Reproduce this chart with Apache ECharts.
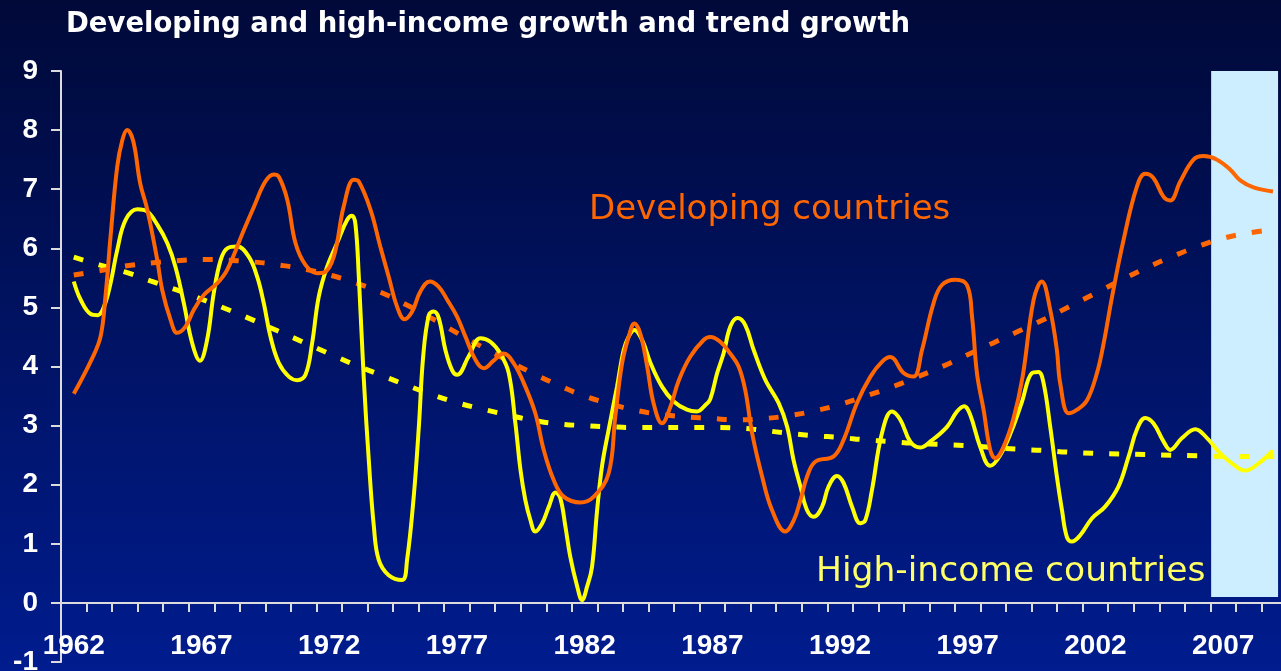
<!DOCTYPE html>
<html lang="en">
<head>
<meta charset="utf-8">
<title>Developing and high-income growth and trend growth</title>
<script type="text/javascript" src="https://cdn.jsdelivr.net/npm/echarts@6/dist/echarts.min.js"></script>
<style>
    html, body { margin: 0; padding: 0; }
    #main { width: 1281px; height: 671px; }
</style>
</head>
<body>
<div id="main"></div>
<script type="text/javascript">

// category axis: one slot per year, labelled every 5 years
var years = ['1962','1963','1964','1965','1966','1967','1968','1969','1970','1971',
    '1972','1973','1974','1975','1976','1977','1978','1979','1980','1981',
    '1982','1983','1984','1985','1986','1987','1988','1989','1990','1991',
    '1992','1993','1994','1995','1996','1997','1998','1999','2000','2001',
    '2002','2003','2004','2005','2006','2007','2008','2009'];

// trend growth, one value per year
var devTrend = [5.55,5.62,5.70,5.75,5.79,5.81,5.80,5.77,5.72,5.65,
    5.55,5.42,5.26,5.05,4.82,4.57,4.33,4.10,3.88,3.68,
    3.50,3.37,3.26,3.19,3.15,3.12,3.10,3.12,3.17,3.25,
    3.36,3.50,3.65,3.82,4.00,4.20,4.40,4.60,4.80,5.02,
    5.24,5.46,5.67,5.86,6.03,6.17,6.26,6.32];
var highTrend = [5.85,5.72,5.60,5.45,5.30,5.14,4.97,4.79,4.60,4.41,
    4.22,4.03,3.86,3.69,3.53,3.39,3.28,3.18,3.09,3.03,
    3.00,2.98,2.97,2.97,2.97,2.97,2.96,2.92,2.87,2.83,
    2.80,2.76,2.73,2.70,2.68,2.66,2.63,2.60,2.58,2.55,
    2.53,2.52,2.51,2.50,2.49,2.48,2.48,2.48];

// developing countries growth (time in years, growth in %)
var devT = [1962.0,1962.72,1963.05,1963.24,1963.44,1963.7,1963.9,1964.09,1964.33,1964.6,
    1964.88,1965.27,1965.46,1965.79,1966.05,1966.38,1966.7,1967.09,1967.62,1968.0,
    1968.66,1969.05,1969.5,1969.83,1970.03,1970.36,1970.68,1971.07,1971.53,1971.79,
    1972.18,1972.57,1972.96,1973.16,1973.62,1974.0,1974.33,1974.66,1974.95,1975.25,
    1975.57,1975.94,1976.29,1976.62,1977.01,1977.33,1977.73,1978.05,1978.44,1978.83,
    1979.22,1979.62,1980.07,1980.4,1980.79,1981.18,1981.84,1982.36,1982.94,1983.2,
    1983.47,1983.73,1983.95,1984.18,1984.45,1984.7,1985.03,1985.36,1985.69,1986.14,
    1986.66,1986.92,1987.31,1987.7,1988.03,1988.29,1988.56,1988.95,1989.34,1989.86,
    1990.19,1990.45,1990.71,1991.03,1991.75,1992.14,1992.66,1993.19,1993.64,1993.97,
    1994.49,1994.88,1995.21,1995.66,1995.99,1996.51,1996.97,1997.17,1997.36,1997.62,
    1997.88,1998.08,1998.4,1998.79,1999.15,1999.58,1999.9,2000.23,2000.49,2000.62,
    2000.95,2001.28,2001.67,2002.06,2002.32,2002.65,2003.1,2003.62,2003.95,2004.27,
    2004.67,2004.93,2005.32,2005.84,2006.23,2006.76,2007.28,2007.67,2008.19,2008.95];
var devG = [3.54,4.14,4.51,5.18,6.20,7.38,7.83,8.00,7.81,7.10,
    6.65,5.80,5.30,4.79,4.57,4.68,4.96,5.21,5.41,5.63,
    6.31,6.70,7.13,7.25,7.21,6.82,6.09,5.72,5.58,5.59,
    5.86,6.71,7.16,7.13,6.65,6.03,5.52,5.01,4.80,4.93,
    5.27,5.44,5.35,5.13,4.84,4.51,4.11,3.97,4.10,4.22,
    4.06,3.72,3.21,2.59,2.08,1.80,1.70,1.80,2.19,3.15,
    4.06,4.51,4.73,4.56,4.00,3.38,3.04,3.32,3.77,4.17,
    4.45,4.50,4.42,4.22,4.00,3.60,2.87,2.14,1.57,1.21,
    1.40,1.74,2.14,2.39,2.48,2.76,3.38,3.83,4.08,4.16,
    3.89,3.83,4.28,5.07,5.38,5.47,5.38,4.84,3.89,3.27,
    2.59,2.45,2.64,3.12,3.83,5.13,5.44,4.96,4.28,3.72,
    3.21,3.27,3.43,3.89,4.39,5.18,6.14,7.04,7.26,7.19,
    6.87,6.81,7.13,7.50,7.56,7.50,7.33,7.15,7.03,6.96];

// high-income countries growth
var highT = [1962.0,1962.27,1962.66,1962.94,1963.18,1963.44,1963.7,1964.03,1964.49,1964.88,
    1965.27,1965.66,1965.98,1966.31,1966.64,1966.94,1967.22,1967.48,1967.75,1968.01,
    1968.4,1968.85,1969.18,1969.44,1969.7,1970.03,1970.42,1970.75,1971.07,1971.33,
    1971.59,1971.92,1972.31,1972.7,1972.9,1973.03,1973.16,1973.35,1973.55,1973.75,
    1973.94,1974.33,1974.86,1975.05,1975.31,1975.51,1975.68,1975.9,1976.09,1976.29,
    1976.55,1976.81,1977.01,1977.46,1977.92,1978.31,1978.7,1979.03,1979.29,1979.49,
    1979.68,1979.88,1980.07,1980.34,1980.6,1980.86,1981.05,1981.25,1981.44,1981.71,
    1981.9,1982.1,1982.29,1982.49,1982.68,1982.94,1983.27,1983.53,1983.73,1983.95,
    1984.25,1984.58,1985.03,1985.49,1986.01,1986.4,1986.73,1986.92,1987.19,1987.44,
    1987.71,1987.99,1988.29,1988.62,1989.08,1989.6,1989.93,1990.18,1990.45,1990.71,
    1990.97,1991.3,1991.55,1991.88,1992.14,1992.47,1992.79,1992.99,1993.25,1993.64,
    1994.03,1994.36,1994.75,1995.14,1995.53,1996.19,1996.58,1996.86,1997.1,1997.49,
    1997.88,1998.27,1998.73,1999.12,1999.51,1999.77,1999.97,2000.23,2000.49,2000.69,
    2000.88,2001.08,2001.41,2001.86,2002.38,2002.9,2003.3,2003.62,2003.95,2004.27,
    2004.67,2004.93,2005.39,2005.91,2006.37,2006.89,2007.41,2007.86,2008.38,2008.95];
var highG = [5.44,5.13,4.89,4.87,5.01,5.41,5.97,6.48,6.66,6.62,
    6.40,6.09,5.69,5.07,4.39,4.10,4.45,5.24,5.80,6.00,
    6.03,5.86,5.52,5.07,4.51,4.06,3.83,3.77,3.86,4.39,
    5.18,5.69,6.09,6.48,6.55,6.40,5.52,3.83,2.42,1.29,
    0.73,0.47,0.39,0.73,1.80,2.98,4.17,4.87,4.93,4.82,
    4.28,3.94,3.86,4.17,4.48,4.42,4.22,3.89,3.04,2.25,
    1.74,1.40,1.21,1.35,1.63,1.87,1.77,1.29,0.78,0.28,
    0.05,0.28,0.61,1.57,2.31,2.93,3.66,4.28,4.51,4.62,
    4.45,4.06,3.66,3.41,3.27,3.24,3.35,3.45,3.89,4.22,
    4.68,4.82,4.70,4.28,3.77,3.38,2.98,2.42,1.97,1.57,
    1.46,1.63,1.97,2.15,2.03,1.63,1.35,1.40,1.91,2.87,
    3.24,3.10,2.73,2.63,2.73,2.98,3.24,3.33,3.18,2.64,
    2.32,2.50,2.93,3.40,3.89,3.91,3.72,2.98,2.14,1.57,
    1.12,1.04,1.15,1.43,1.63,1.97,2.48,2.93,3.13,3.04,
    2.73,2.59,2.79,2.94,2.79,2.53,2.34,2.24,2.36,2.58];

// forecast band: [start year, end year]
var forecastBand = [2006.53, 2009.15];

function pairs(xs, ys) {
    var out = [];
    for (var i = 0; i < xs.length; i++) {
        out.push([xs[i], ys[i]]);
    }
    return out;
}

var trendPts = years.map(function (y) { return Number(y); });

var myChart = echarts.init(document.getElementById('main'));
var axisColor = '#dcdcdc';
var labelFont = '"Liberation Sans", Arial';

var option = {
    animation: false,
    backgroundColor: new echarts.graphic.LinearGradient(0, 0, 0, 1, [
        {offset: 0, color: '#000938'},
        {offset: 1, color: '#001c8e'}
    ]),
    graphic: [
        {
            type: 'text', left: 66, top: 11,
            style: {text: 'Developing and high-income growth and trend growth', fill: '#ffffff',
                font: 'bold 27.5px "DejaVu Sans"'}
        },
        {
            type: 'text', left: 589, top: 193,
            style: {text: 'Developing countries', fill: '#ff6600', font: '34px "DejaVu Sans"'}
        },
        {
            type: 'text', left: 816, top: 555,
            style: {text: 'High-income countries', fill: '#ffff66', font: '34.5px "DejaVu Sans"'}
        }
    ],
    // grid 0: 0..9 plot, grid 1: the short stretch of y axis down to -1
    grid: [
        {left: 61, top: 71, width: 1226, height: 532, outerBoundsMode: 'none', containLabel: false},
        {left: 61, top: 603, width: 1226, height: 59, outerBoundsMode: 'none', containLabel: false}
    ],
    xAxis: [
        {
            type: 'category',
            gridIndex: 0,
            data: years,
            boundaryGap: true,
            axisLine: {onZero: false, lineStyle: {color: axisColor, width: 2}},
            axisTick: {show: true, interval: 0, length: 9, lineStyle: {color: axisColor, width: 2}},
            axisLabel: {interval: 4, margin: 29, color: '#ffffff', fontWeight: 'bold',
                fontSize: 28, fontFamily: labelFont},
            splitLine: {show: false}
        },
        {type: 'value', gridIndex: 0, min: 1961.5, max: 2009.5, show: false},
        {type: 'value', gridIndex: 1, min: 0, max: 1, show: false}
    ],
    yAxis: [
        {
            type: 'value',
            gridIndex: 0,
            min: 0,
            max: 9,
            interval: 1,
            axisLine: {show: true, onZero: false, lineStyle: {color: axisColor, width: 2}},
            axisTick: {show: true, length: 10, lineStyle: {color: axisColor, width: 2}},
            axisLabel: {margin: 23, color: '#ffffff', fontWeight: 'bold', fontSize: 28,
                fontFamily: labelFont},
            splitLine: {show: false}
        },
        {
            type: 'value',
            gridIndex: 1,
            min: -1,
            max: 0,
            interval: 1,
            axisLine: {show: true, onZero: false, lineStyle: {color: axisColor, width: 2}},
            axisTick: {show: true, length: 10, lineStyle: {color: axisColor, width: 2}},
            axisLabel: {
                margin: 23, color: '#ffffff', fontWeight: 'bold', fontSize: 28,
                fontFamily: labelFont,
                formatter: function (v) { return v < 0 ? String(v) : ''; }
            },
            splitLine: {show: false}
        }
    ],
    series: [
        {
            name: 'High-income trend',
            type: 'line',
            xAxisIndex: 1,
            yAxisIndex: 0,
            z: 3,
            smooth: true,
            showSymbol: false,
            lineStyle: {color: '#ffff00', width: 5, type: [10, 16], cap: 'butt'},
            data: pairs(trendPts, highTrend),
            markArea: {
                silent: true,
                z: 1,
                itemStyle: {color: '#cceeff', opacity: 1},
                data: [[{coord: [forecastBand[0], 0.1]}, {coord: [forecastBand[1], 9.03]}]]
            }
        },
        {
            name: 'Developing trend',
            type: 'line',
            xAxisIndex: 1,
            yAxisIndex: 0,
            z: 3,
            smooth: true,
            showSymbol: false,
            lineStyle: {color: '#ff6600', width: 5, type: [10, 16], cap: 'butt'},
            data: pairs(trendPts, devTrend)
        },
        {
            name: 'High-income countries',
            type: 'line',
            xAxisIndex: 1,
            yAxisIndex: 0,
            z: 4,
            smooth: 0.4,
            showSymbol: false,
            clip: false,
            lineStyle: {color: '#ffff00', width: 4},
            data: pairs(highT, highG)
        },
        {
            name: 'Developing countries',
            type: 'line',
            xAxisIndex: 1,
            yAxisIndex: 0,
            z: 5,
            smooth: 0.4,
            showSymbol: false,
            lineStyle: {color: '#ff6600', width: 4},
            data: pairs(devT, devG)
        }
    ]
};
myChart.setOption(option);
</script>
</body>
</html>
